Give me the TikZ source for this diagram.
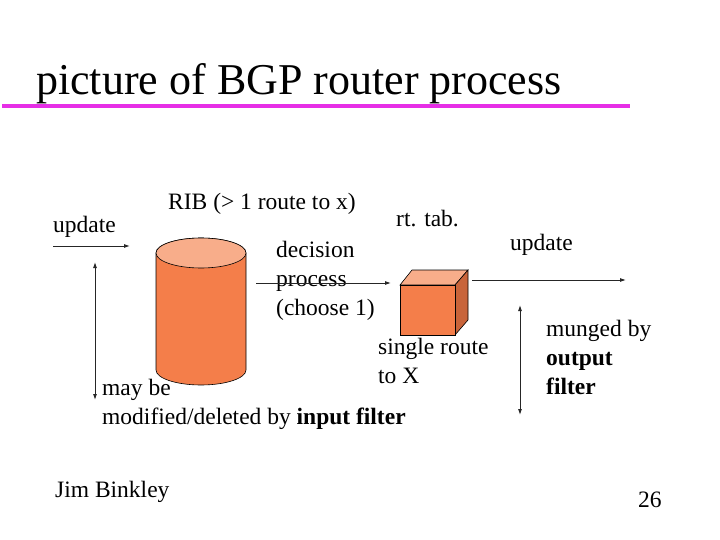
\documentclass[tikz,border=0pt]{standalone}
\usepackage{fontspec}
\usetikzlibrary{arrows.meta}
\setmainfont{Liberation Serif}
\definecolor{org}{HTML}{F47E4A}
\definecolor{orgl}{HTML}{F8AD8A}
\definecolor{orgd}{HTML}{C8643A}
\definecolor{mag}{HTML}{E62EE6}
\begin{document}
\begin{tikzpicture}[x=1pt,y=-1pt,
  txt/.style={font=\fontsize{23.5}{29}\selectfont,anchor=base west,inner sep=0pt},
  arr/.style={-{Latex[length=6pt,width=4pt]},line width=0.9pt,draw=black!85},
  darr/.style={{Latex[length=6pt,width=4pt]}-{Latex[length=6pt,width=4pt]},line width=0.9pt,draw=black!85}]
\useasboundingbox (0,0) rectangle (720,540);
\node[anchor=base west,inner sep=0pt,font=\fontsize{44}{48}\selectfont] (title) at (36,95) {picture of BGP router process};
\draw[mag,line width=4pt] (2,106) -- (630,106);
\node[txt] (upl) at (53,233) {update};
\coordinate (a1) at (53,246); \coordinate (a2) at (130,246);
\draw[arr] (a1) -- (a2);
\coordinate (d1) at (95,262); \coordinate (d2) at (95,400);
\draw[darr] (d1) -- (d2);
% cylinder
\draw[line width=0.6pt,fill=org] (156,253) -- (156,370) arc[start angle=180,end angle=0,x radius=45,y radius=15] -- (246,253) arc[start angle=0,end angle=-180,x radius=45,y radius=15] -- cycle;
\draw[line width=0.6pt,fill=orgl] (201,253) ellipse[x radius=45,y radius=15];
\node[txt] (rib) at (168,210) {RIB (> 1 route to x)};
\node[txt] (dec1) at (276,257) {decision};
\node[txt] (dec2) at (276,286) {process};
\node[txt] (dec3) at (276,315) {(choose 1)};
\coordinate (b1) at (256,283); \coordinate (b2) at (391,283);
\draw[arr] (b1) -- (b2);
% box
\draw[line width=0.6pt,fill=orgl] (400,285) -- (412,270) -- (468,270) -- (455,285) -- cycle;
\draw[line width=0.6pt,fill=orgd] (455,285) -- (468,270) -- (468,320) -- (455,335) -- cycle;
\draw[line width=0.6pt,fill=org] (400,285) rectangle (455,335);
\node[txt] (rt) at (396,226) {rt. tab.};
\node[txt] (upr) at (510,251) {update};
\coordinate (c1) at (472,280); \coordinate (c2) at (626,280);
\draw[arr] (c1) -- (c2);
\coordinate (e1) at (520,305); \coordinate (e2) at (520,415);
\draw[darr] (e1) -- (e2);
\node[txt] (m1) at (546,336) {munged by};
\node[txt] (m2) at (546,365) {\textbf{output}};
\node[txt] (m3) at (546,394) {\textbf{filter}};
\node[txt] (s1) at (378,354) {single route};
\node[txt] (s2) at (378,383) {to X};
\node[txt] (may1) at (102,395) {may be};
\node[txt] (may2) at (102,424) {modified/deleted by \textbf{input filter}};
\node[txt] (jim) at (55,497) {Jim Binkley};
\node[txt] (num) at (638,507) {26};
\end{tikzpicture}
\end{document}
